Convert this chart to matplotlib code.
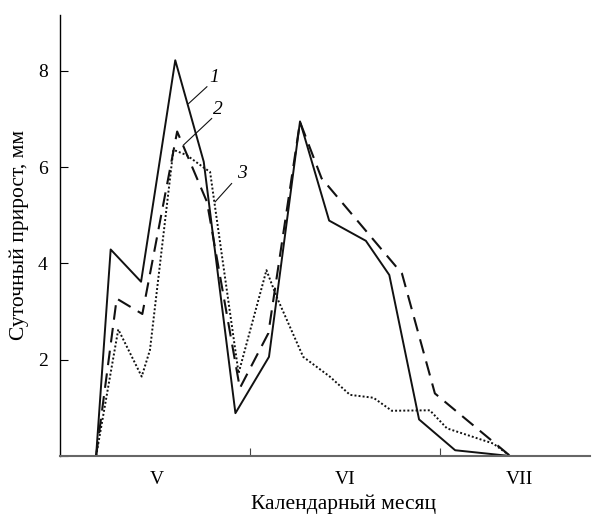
import matplotlib
matplotlib.use('Agg')
import matplotlib.pyplot as plt

plt.rcParams['font.family'] = ['Liberation Serif', 'DejaVu Serif']

# дни от начала мая (V), граница VI ~30, VII ~60
x1 = [5.7, 8.0, 12.8, 18.2, 22.7, 27.7, 33.0, 37.9, 42.5, 48.3, 52.0, 56.7, 62.4, 71.1]
y1 = [0, 4.29, 3.62, 8.22, 6.11, 0.89, 2.06, 6.95, 4.89, 4.47, 3.76, 0.76, 0.12, 0]

x2 = [5.7, 8.95, 13.0, 18.5, 23.2, 28.4, 32.9, 37.9, 41.3, 54.0, 59.2, 71.1]
y2 = [0, 3.27, 2.95, 6.74, 5.28, 1.41, 2.55, 6.94, 5.77, 3.79, 1.30, 0]

x3 = [5.7, 9.2, 12.9, 14.2, 17.9, 20.0, 22.6, 23.7, 28.2, 32.6, 34.2, 38.4,
      42.6, 45.8, 49.5, 52.4, 58.4, 61.1, 68.4, 71.1]
y3 = [0, 2.63, 1.65, 2.2, 6.36, 6.25, 6.0, 5.9, 1.72, 3.86, 3.31, 2.06,
      1.65, 1.27, 1.21, 0.94, 0.95, 0.575, 0.26, 0]

month_edges = [30, 60]
month_pos = [15.3, 45, 72.5]
month_labels = ['V', 'VI', 'VII']

fig = plt.figure(figsize=(5.93, 5.14), dpi=100)
ax = fig.add_axes([0.1012, 0.1128, 0.8938, 0.858])

ax.plot(x1, y1, color='#111111', lw=1.4, ls='-')
ax.plot(x2, y2, color='#111111', lw=1.5, ls=(0, (7, 4)))
ax.plot(x3, y3, color='#111111', lw=1.4, ls=(0, (1, 1.1)))

# подписи кривых
for txt, tx, ty, lx, ly in [('1', 24.4, 7.87, (23.2, 20.3), (7.67, 7.32)),
                            ('2', 24.9, 7.2, (23.95, 19.5), (7.01, 6.46)),
                            ('3', 28.7, 5.87, (27.1, 24.5), (5.66, 5.28))]:
    ax.text(tx, ty, txt, fontsize=14, style='italic', ha='center', va='center')
    ax.plot(lx, ly, color='#111111', lw=0.8)

ax.set_xlim(0, 83.7)
ax.set_ylim(0, 9.16)

ax.spines['top'].set_visible(False)
ax.spines['right'].set_visible(False)
ax.spines['bottom'].set_color('#666666')
ax.spines['bottom'].set_linewidth(1.5)
ax.spines['left'].set_linewidth(1.0)

ax.set_yticks([0, 2, 4, 6, 8])
ax.set_yticklabels(['', '2', '4', '6', '8'])
ax.tick_params(axis='y', direction='in', length=6, labelsize=14, pad=9)

ax.set_xticks(month_edges)
ax.set_xticklabels(['', ''])
ax.set_xticks(month_pos, minor=True)
ax.set_xticklabels(month_labels, minor=True)
ax.tick_params(axis='x', which='major', direction='in', length=6, color='#444444')
ax.tick_params(axis='x', which='minor', length=0, labelsize=14, pad=11)

fig.text(0.58, 0.0195, 'Календарный месяц', fontsize=15.5, ha='center', va='center')
fig.text(0.032, 0.543, 'Суточный прирост, мм', fontsize=15.5, rotation=90,
         ha='center', va='center')

fig.savefig('out.png', dpi=100)
